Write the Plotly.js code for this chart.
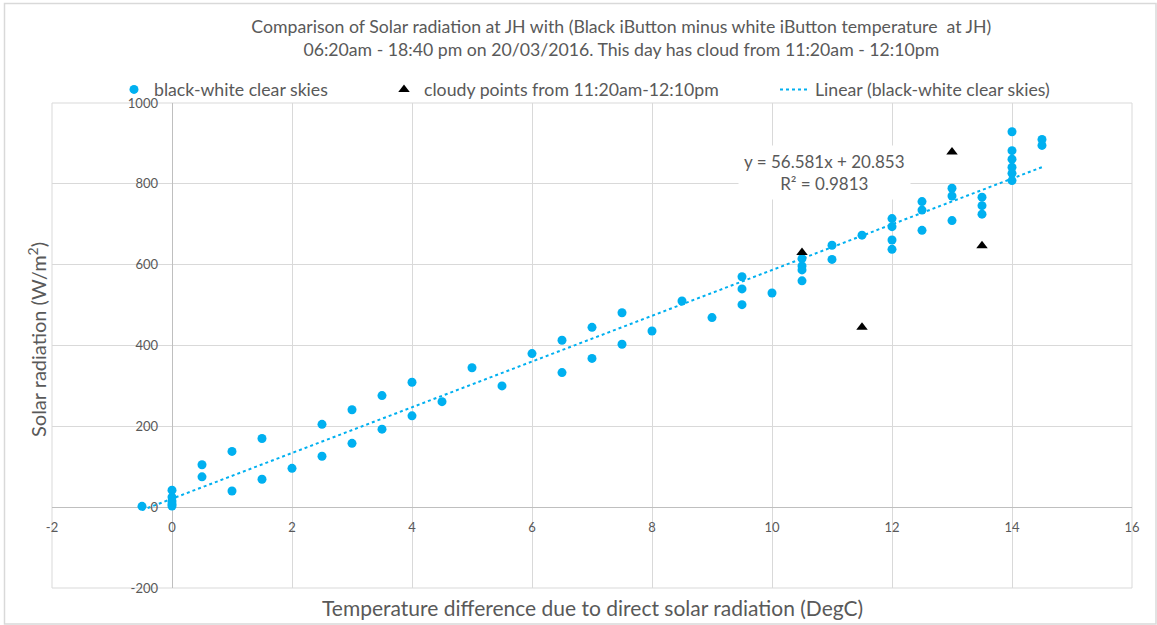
<!DOCTYPE html>
<html>
<head>
<meta charset="utf-8">
<script src="https://cdn.plot.ly/plotly-3.0.1.min.js"></script>
<style>
  html, body { margin: 0; padding: 0; background: #ffffff; }
  #chart { width: 1157px; height: 625px; }
</style>
</head>
<body>
<div id="chart"></div>
<script>
// ---- data ----
const clearX = [-0.5, 0, 0, 0, 0, 0, 0.5, 0.5, 1, 1, 1.5, 1.5, 2, 2.5, 2.5, 3, 3, 3.5, 3.5, 4, 4, 4.5, 5, 5.5, 6,
  6.5, 6.5, 7, 7, 7.5, 7.5, 8, 8.5, 9, 9.5, 9.5, 9.5, 10, 10.5, 10.5, 10.5, 10.5, 11, 11, 11.5,
  12, 12, 12, 12, 12.5, 12.5, 12.5, 13, 13, 13, 13.5, 13.5, 13.5, 14, 14, 14, 14, 14, 14, 14.5, 14.5];
const clearY = [2, 42, 25, 15, 8, 3, 105, 75, 138, 40, 170, 69, 96, 205, 126, 241, 158, 276, 193, 309, 226, 261, 345, 300, 380,
  413, 333, 445, 368, 481, 403, 436, 510, 469, 570, 540, 501, 530, 615, 597, 587, 560, 648, 613, 673,
  714, 694, 661, 638, 756, 735, 685, 789, 770, 709, 767, 746, 725, 929, 882, 861, 841, 826, 808, 910, 895];
const cloudyX = [10.5, 11.5, 13, 13.5];
const cloudyY = [630, 445, 879, 647];

const trendSlope = 56.581;
const trendIntercept = 20.853;
const trendR2 = 0.9813;

const xTickVals = [-2, 0, 2, 4, 6, 8, 10, 12, 14, 16];
const xTickText = ['-2', '0', '2', '4', '6', '8', '10', '12', '14', '16'];
const yTickVals = [-200, 0, 200, 400, 600, 800, 1000];
const yTickText = ['-200', '0', '200', '400', '600', '800', '1000'];

const seriesNames = ['black-white clear skies', 'cloudy points from 11:20am-12:10pm', 'Linear (black-white clear skies)'];
const titleText = 'Comparison of Solar radiation at JH with (Black iButton minus white iButton temperature  at JH)<br>06:20am - 18:40 pm on 20/03/2016. This day has cloud from 11:20am - 12:10pm';
const xTitle = 'Temperature difference due to direct solar radiation (DegC)';
const yTitle = 'Solar radiation (W/m<sup>2</sup>)';

// ---- trendline from its fitted coefficients over the data range ----
const tx0 = Math.min(...clearX), tx1 = Math.max(...clearX);
const trendX = [tx0, tx1];
const trendY = trendX.map(v => trendSlope * v + trendIntercept);

const BLUE = '#00B0F0';
const TXT = '#595959';
const FONT = 'Lato, "Open Sans", sans-serif';

const X_RANGE = [-2, 16], Y_RANGE = [-200, 1000];
const yZeroFrac = (0 - Y_RANGE[0]) / (Y_RANGE[1] - Y_RANGE[0]);
const xZeroFrac = (0 - X_RANGE[0]) / (X_RANGE[1] - X_RANGE[0]);

const traces = [
  { x: clearX, y: clearY, type: 'scatter', mode: 'markers', name: seriesNames[0],
    marker: { color: BLUE, size: 9, symbol: 'circle' }, legend: 'legend' },
  { x: cloudyX, y: cloudyY, type: 'scatter', mode: 'markers', name: seriesNames[1],
    marker: { color: '#000000', size: 10, symbol: 'triangle-up' }, legend: 'legend2' },
  { x: trendX, y: trendY, type: 'scatter', mode: 'lines', name: seriesNames[2],
    line: { color: BLUE, width: 2, dash: 'dot' }, legend: 'legend3' }
];

const legendCommon = { orientation: 'h', yanchor: 'middle', y: 1.027, xanchor: 'left',
  font: { family: FONT, size: 17.7, color: TXT }, bgcolor: 'rgba(0,0,0,0)', borderwidth: 0 };

const layout = {
  width: 1157, height: 625,
  margin: { l: 52, r: 25, t: 103, b: 37 },
  paper_bgcolor: '#ffffff', plot_bgcolor: '#ffffff',
  font: { family: FONT, color: TXT },
  title: { text: titleText, x: 0.537, xref: 'container', xanchor: 'center',
    y: 0.947, yref: 'container', yanchor: 'top',
    font: { family: FONT, size: 17.7, color: TXT } },
  xaxis: { range: X_RANGE, tickmode: 'array', tickvals: xTickVals, ticktext: xTickText,
    anchor: 'free', position: yZeroFrac, showgrid: true, gridcolor: '#d9d9d9', gridwidth: 1,
    zeroline: true, zerolinecolor: '#bfbfbf', zerolinewidth: 1, showline: false, ticks: '',
    ticklabelstandoff: 11,
    tickfont: { family: FONT, size: 13, color: TXT } },
  yaxis: { range: Y_RANGE, tickmode: 'array', tickvals: yTickVals, ticktext: yTickText,
    anchor: 'free', position: xZeroFrac, showgrid: true, gridcolor: '#d9d9d9', gridwidth: 1,
    zeroline: true, zerolinecolor: '#bfbfbf', zerolinewidth: 1, showline: false, ticks: '',
    ticklabelstandoff: 14,
    tickfont: { family: FONT, size: 13, color: TXT } },
  showlegend: true,
  legend: Object.assign({}, legendCommon, { x: (114 - 52) / 1080 }),
  legend2: Object.assign({}, legendCommon, { x: (384 - 52) / 1080 }),
  legend3: Object.assign({}, legendCommon, { x: (775 - 52) / 1080 }),
  shapes: [
    { type: 'rect', xref: 'paper', yref: 'paper', x0: 0, x1: 1, y0: 0, y1: 1,
      line: { color: '#d9d9d9', width: 1 }, fillcolor: 'rgba(0,0,0,0)', layer: 'below' },
    { type: 'rect', xref: 'paper', yref: 'paper',
      x0: (4.5 - 52) / 1080, x1: (1156 - 52) / 1080, y0: (588 - 624) / 485, y1: (588 - 3.5) / 485,
      line: { color: '#d9d9d9', width: 1.5 }, fillcolor: 'rgba(0,0,0,0)', layer: 'below' }
  ],
  annotations: [
    { text: 'y = ' + trendSlope.toFixed(3) + 'x + ' + trendIntercept.toFixed(3) + '<br>R² = ' + trendR2.toFixed(4),
      xref: 'x', yref: 'y', x: 10.87, y: 827, showarrow: false, align: 'center',
      bgcolor: '#ffffff', borderpad: 5,
      font: { family: FONT, size: 17, color: TXT } },
    { text: xTitle, xref: 'paper', yref: 'paper', x: 0.5, y: (588 - 607) / 485,
      xanchor: 'center', yanchor: 'middle', showarrow: false,
      font: { family: FONT, size: 21, color: TXT } },
    { text: yTitle, xref: 'paper', yref: 'paper', x: (37 - 52) / 1080, y: (588 - 340) / 485,
      xanchor: 'center', yanchor: 'middle', textangle: -90, showarrow: false,
      font: { family: FONT, size: 20, color: TXT } }
  ]
};

Plotly.newPlot('chart', traces, layout, { displayModeBar: false, responsive: false });
</script>
</body>
</html>
